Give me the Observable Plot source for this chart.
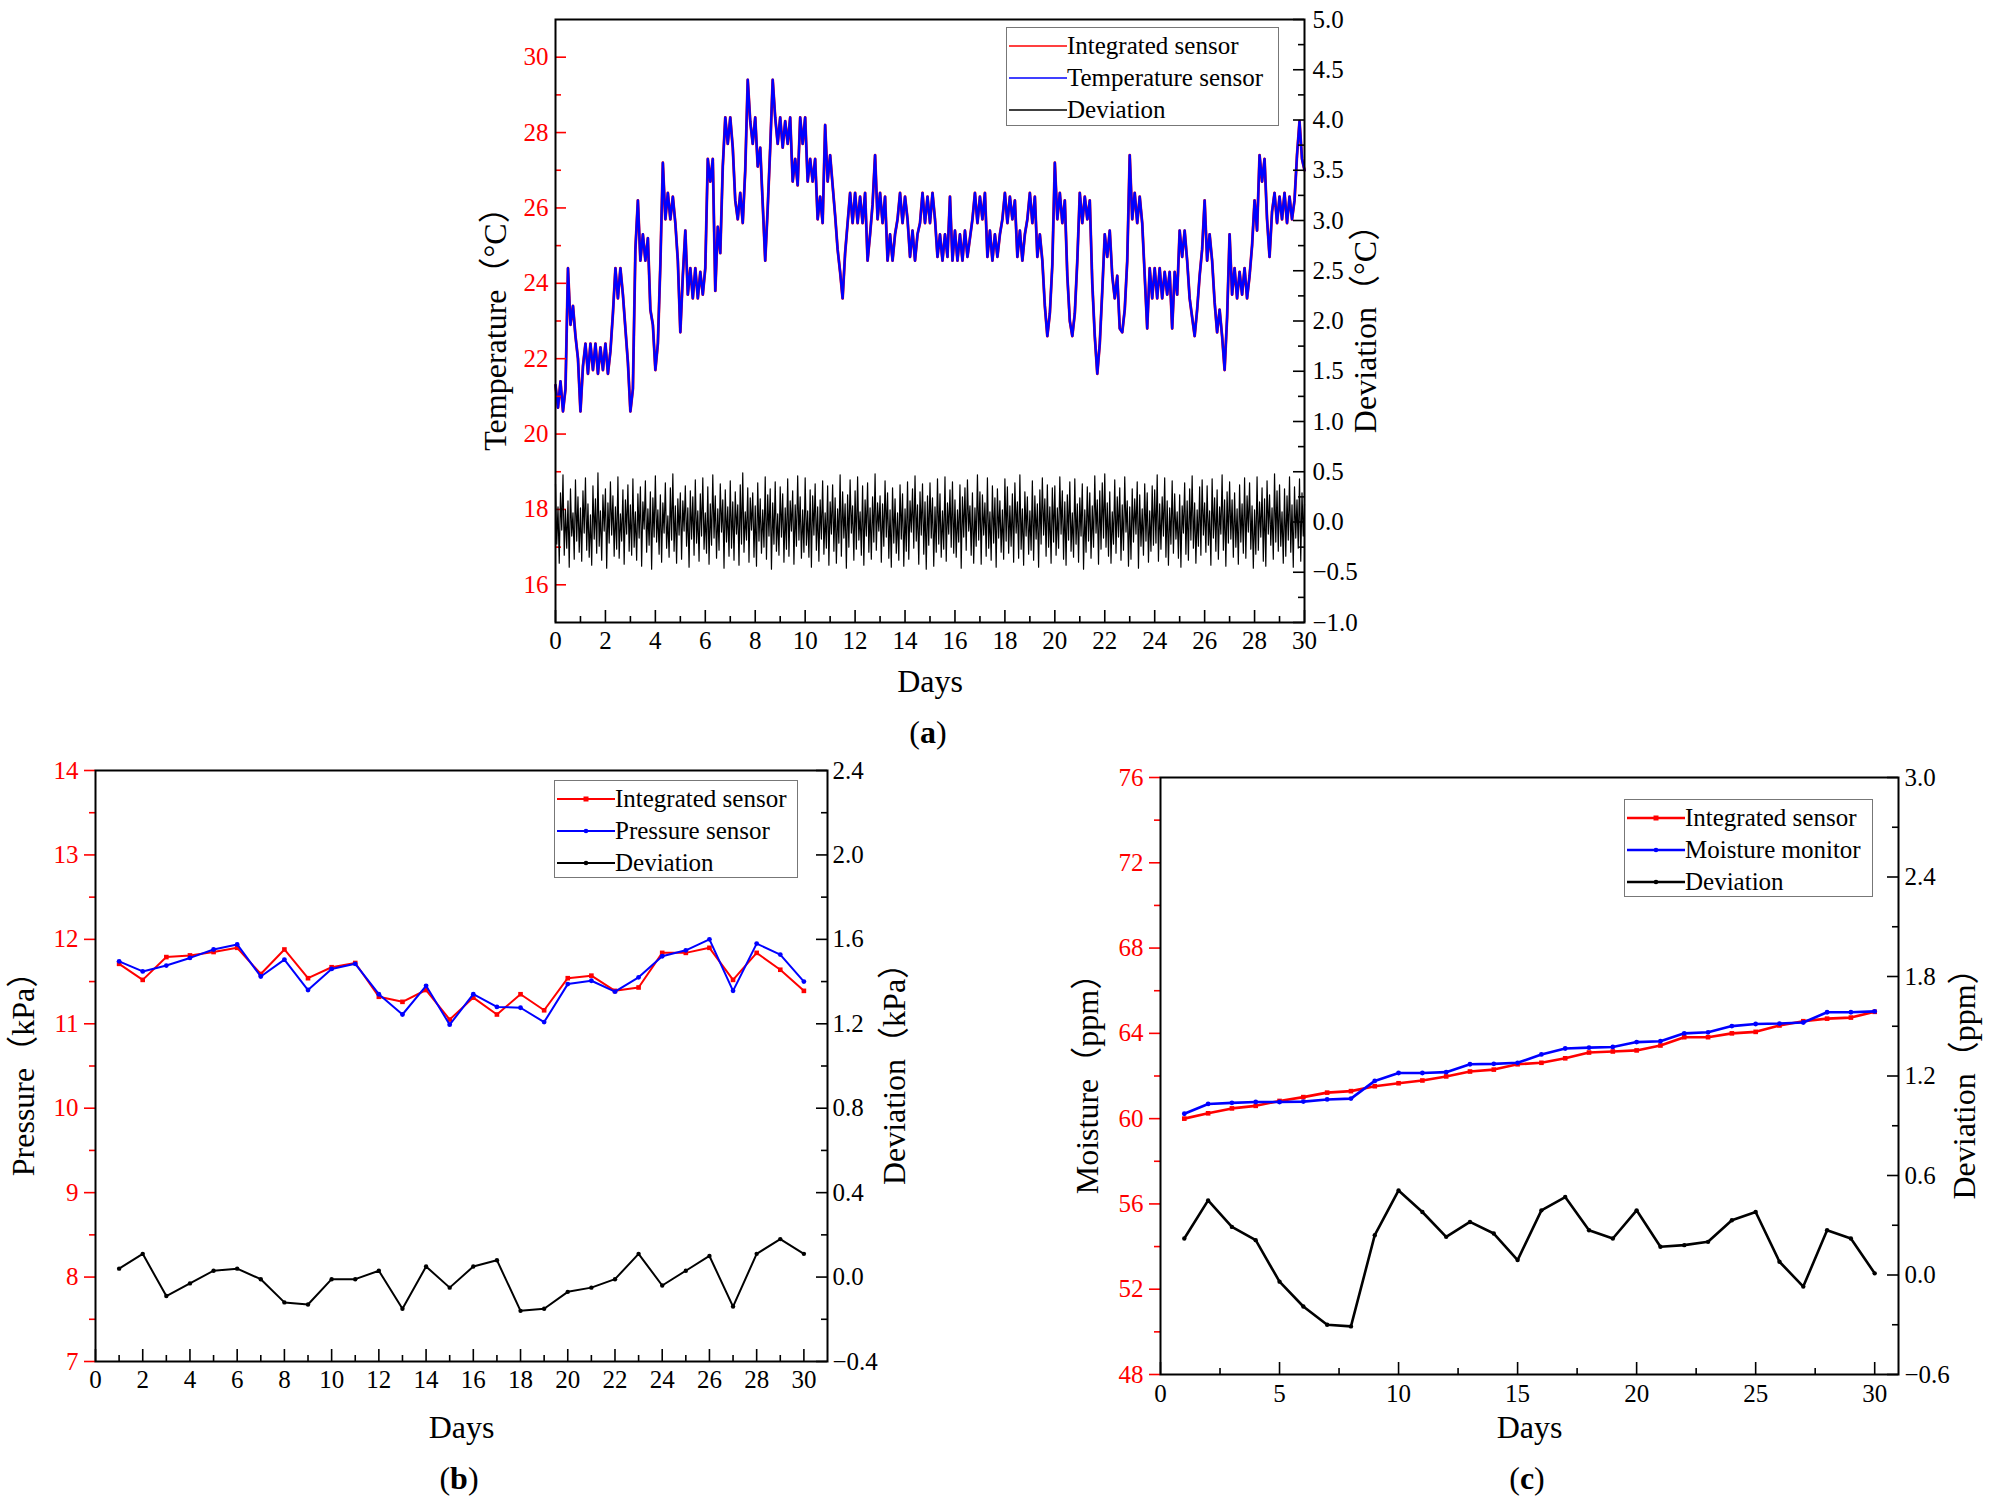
<!DOCTYPE html>
<html><head><meta charset="utf-8">
<script src="https://cdn.jsdelivr.net/npm/d3@7"></script>
<script src="https://cdn.jsdelivr.net/npm/@observablehq/plot@0.6"></script>
<style>
html,body{margin:0;padding:0;background:#fff;}
body{width:1989px;height:1507px;position:relative;overflow:hidden;font-family:'Liberation Serif','Times New Roman','Noto Sans CJK SC',serif;}
.layer{position:absolute;}
.layer svg{position:absolute;left:0;top:0;}
.legend{position:absolute;border:1.5px solid #777;background:#fff;box-sizing:border-box;}
.leg-row{position:absolute;left:2px;height:30px;display:flex;align-items:center;font-size:25px;color:#000;white-space:nowrap;}
.leg-row svg{display:block;}
.plabel{position:absolute;font-size:32px;transform:translate(-50%,-50%);color:#000;}
</style></head><body>
<script>
const FONT = "'Liberation Serif','Times New Roman','Noto Sans CJK SC',serif";

// ---------- (a) temperature sensor, sampled every 0.1 day ----------
const tempDayStep = 0.1;
const temperatureSensor = [
  21.3,20.7,21.4,20.6,21.2,24.4,22.9,23.4,22.6,22.0,
  20.6,21.8,22.4,21.6,22.4,21.7,22.4,21.6,22.3,21.7,
  22.4,21.6,22.2,23.2,24.4,23.6,24.4,23.7,22.8,21.9,
  20.6,21.2,24.9,26.2,24.6,25.3,24.6,25.2,23.3,22.9,
  21.7,22.4,24.5,27.2,25.7,26.4,25.7,26.3,25.6,24.6,
  22.7,24.2,25.4,23.7,24.4,23.6,24.4,23.6,24.3,23.7,
  24.4,27.3,26.7,27.3,23.8,25.5,24.8,27.1,28.4,27.7,
  28.4,27.6,26.2,25.7,26.4,25.6,27.0,29.4,28.3,27.7,
  28.4,27.1,27.6,26.1,24.6,26.0,27.6,29.4,28.4,27.7,
  28.4,27.6,28.3,27.7,28.4,26.7,27.3,26.6,28.4,27.7,
  28.4,26.7,27.3,26.7,27.3,25.7,26.3,25.6,28.2,26.7,
  27.4,26.6,25.8,24.9,24.3,23.6,24.8,25.6,26.4,25.6,
  26.4,25.6,26.3,25.6,26.4,24.6,25.3,26.1,27.4,25.7,
  26.4,25.6,26.3,24.6,25.3,24.6,25.3,25.7,26.4,25.6,
  26.3,25.7,24.7,25.4,24.6,25.3,25.6,26.4,25.6,26.3,
  25.6,26.4,25.7,24.7,25.3,24.6,25.3,24.7,26.3,24.6,
  25.4,24.6,25.3,24.6,25.4,24.7,25.2,25.7,26.4,25.6,
  26.3,25.7,26.4,24.7,25.4,24.6,25.3,24.7,25.3,25.7,
  26.4,25.6,26.3,25.7,26.2,24.7,25.4,24.6,25.3,25.7,
  26.4,25.6,26.3,24.7,25.3,24.6,23.4,22.6,23.2,24.5,
  27.2,25.7,26.4,25.6,26.2,24.2,23.0,22.6,23.2,24.6,
  26.4,25.6,26.3,25.7,26.2,24.0,22.6,21.6,22.4,23.8,
  25.3,24.7,25.4,24.2,23.6,24.2,22.8,22.7,23.3,24.6,
  27.4,25.7,26.4,25.6,26.3,25.6,24.2,22.8,24.4,23.6,
  24.4,23.6,24.4,23.6,24.3,23.7,24.3,22.8,24.3,23.7,
  25.4,24.7,25.4,24.6,23.6,23.1,22.6,23.3,24.2,24.9,
  26.2,24.6,25.3,24.6,23.5,22.7,23.3,22.6,21.7,23.1,
  25.3,23.7,24.4,23.6,24.3,23.7,24.4,23.6,24.2,25.0,
  26.2,25.4,27.4,26.7,27.3,25.7,24.7,25.9,26.4,25.6,
  26.3,25.7,26.4,25.6,26.3,25.7,26.2,27.4,28.3,27.3,
  27.0
];
const integratedTemp = temperatureSensor; // integrated sensor overlaps the temperature sensor

// ---------- (a) deviation, sampled every 0.05 day ----------
const devDayStep = 0.05;
const deviationA = [
  0.38,-0.22,0.15,-0.41,0.29,-0.08,0.47,-0.33,0.12,-0.26,0.21,-0.45,0.33,-0.14,0.09,-0.37,0.42,-0.19,0.25,-0.30,
  0.14,-0.39,0.31,-0.11,0.44,-0.28,0.18,-0.35,0.07,-0.43,0.36,-0.17,0.23,-0.31,0.49,-0.24,0.11,-0.38,0.27,-0.09,
  0.33,-0.46,0.19,-0.21,0.40,-0.13,0.26,-0.34,0.15,-0.27,0.45,-0.36,0.08,-0.19,0.32,-0.42,0.22,-0.12,0.37,-0.29,
  0.17,-0.33,0.43,-0.25,0.10,-0.38,0.28,-0.16,0.35,-0.44,0.20,-0.07,0.41,-0.30,0.13,-0.23,0.30,-0.47,0.24,-0.15,
  0.46,-0.20,0.12,-0.32,0.27,-0.40,0.19,-0.11,0.39,-0.26,0.06,-0.35,0.34,-0.18,0.48,-0.29,0.16,-0.41,0.23,-0.13,
  0.29,-0.37,0.21,-0.09,0.36,-0.24,0.14,-0.45,0.31,-0.17,0.25,-0.33,0.42,-0.21,0.11,-0.39,0.28,-0.14,0.44,-0.27,
  0.09,-0.31,0.35,-0.42,0.18,-0.23,0.47,-0.16,0.26,-0.36,0.13,-0.28,0.38,-0.10,0.22,-0.46,0.32,-0.20,0.15,-0.34,
  0.41,-0.26,0.20,-0.38,0.30,-0.12,0.17,-0.43,0.37,-0.22,0.49,-0.30,0.10,-0.18,0.34,-0.40,0.24,-0.08,0.29,-0.35,
  0.16,-0.44,0.39,-0.19,0.23,-0.31,0.12,-0.25,0.45,-0.37,0.27,-0.14,0.33,-0.47,0.19,-0.22,0.40,-0.29,0.08,-0.33,
  0.35,-0.15,0.28,-0.40,0.14,-0.27,0.43,-0.34,0.21,-0.09,0.31,-0.42,0.17,-0.24,0.46,-0.18,0.25,-0.36,0.12,-0.30,
  0.44,-0.23,0.11,-0.35,0.32,-0.45,0.26,-0.13,0.38,-0.28,0.15,-0.39,0.22,-0.17,0.41,-0.32,0.09,-0.26,0.36,-0.43,
  0.20,-0.12,0.37,-0.29,0.24,-0.41,0.13,-0.21,0.47,-0.34,0.30,-0.16,0.18,-0.46,0.27,-0.25,0.42,-0.11,0.16,-0.38,
  0.31,-0.27,0.45,-0.18,0.10,-0.33,0.36,-0.43,0.22,-0.14,0.39,-0.30,0.14,-0.37,0.25,-0.20,0.48,-0.28,0.19,-0.09,
  0.26,-0.40,0.18,-0.24,0.41,-0.15,0.29,-0.36,0.12,-0.45,0.34,-0.21,0.23,-0.31,0.09,-0.38,0.37,-0.17,0.28,-0.44,
  0.13,-0.29,0.40,-0.37,0.21,-0.10,0.33,-0.26,0.46,-0.19,0.17,-0.42,0.30,-0.13,0.38,-0.32,0.20,-0.47,0.26,-0.23,
  0.39,-0.16,0.24,-0.44,0.15,-0.30,0.43,-0.22,0.28,-0.35,0.11,-0.27,0.45,-0.39,0.19,-0.12,0.32,-0.25,0.40,-0.31,
  0.22,-0.35,0.12,-0.20,0.37,-0.46,0.25,-0.15,0.34,-0.28,0.42,-0.09,0.16,-0.33,0.29,-0.41,0.14,-0.24,0.47,-0.18,
  0.30,-0.42,0.27,-0.13,0.19,-0.34,0.44,-0.26,0.10,-0.38,0.36,-0.21,0.24,-0.45,0.33,-0.16,0.21,-0.30,0.12,-0.37,
  0.43,-0.19,0.35,-0.31,0.16,-0.24,0.28,-0.40,0.39,-0.11,0.20,-0.36,0.47,-0.27,0.13,-0.43,0.30,-0.14,0.25,-0.32,
  0.11,-0.28,0.41,-0.38,0.26,-0.17,0.18,-0.45,0.32,-0.22,0.44,-0.13,0.23,-0.34,0.37,-0.25,0.15,-0.41,0.34,-0.20,
  0.36,-0.33,0.14,-0.26,0.45,-0.12,0.31,-0.37,0.20,-0.43,0.27,-0.18,0.40,-0.29,0.09,-0.35,0.43,-0.22,0.18,-0.40,
  0.24,-0.14,0.38,-0.47,0.12,-0.30,0.35,-0.19,0.29,-0.36,0.16,-0.25,0.46,-0.11,0.22,-0.42,0.31,-0.27,0.39,-0.16,
  0.48,-0.25,0.19,-0.34,0.30,-0.41,0.10,-0.22,0.42,-0.31,0.25,-0.15,0.34,-0.38,0.17,-0.28,0.45,-0.10,0.21,-0.44,
  0.15,-0.37,0.33,-0.20,0.23,-0.12,0.40,-0.46,0.27,-0.24,0.13,-0.33,0.38,-0.19,0.29,-0.40,0.11,-0.29,0.36,-0.23,
  0.32,-0.21,0.47,-0.39,0.18,-0.27,0.25,-0.14,0.44,-0.35,0.21,-0.43,0.14,-0.22,0.41,-0.31,0.28,-0.17,0.10,-0.36,
  0.27,-0.45,0.16,-0.11,0.39,-0.32,0.21,-0.38,0.33,-0.18,0.46,-0.26,0.19,-0.41,0.12,-0.24,0.35,-0.33,0.42,-0.13,
  0.19,-0.30,0.36,-0.23,0.11,-0.43,0.43,-0.16,0.24,-0.29,0.32,-0.37,0.15,-0.12,0.47,-0.28,0.22,-0.44,0.30,-0.21,
  0.40,-0.17,0.22,-0.35,0.29,-0.25,0.13,-0.42,0.37,-0.20,0.18,-0.31,0.44,-0.36,0.26,-0.10,0.39,-0.27,0.16,-0.46,
  0.12,-0.32,0.45,-0.28,0.20,-0.15,0.34,-0.39,0.23,-0.44,0.41,-0.12,0.27,-0.23,0.14,-0.37,0.48,-0.20,0.31,-0.29,
  0.37,-0.24,0.10,-0.41,0.33,-0.34,0.26,-0.18,0.45,-0.30,0.17,-0.45,0.35,-0.16,0.22,-0.26,0.43,-0.39,0.29,-0.14,
  0.18
];

// ---------- (b) pressure, daily ----------
const days = [1,2,3,4,5,6,7,8,9,10,11,12,13,14,15,16,17,18,19,20,21,22,23,24,25,26,27,28,29,30];
const pressureIntegrated = [11.71,11.52,11.79,11.81,11.85,11.90,11.59,11.88,11.54,11.67,11.72,11.32,11.26,11.40,11.05,11.31,11.11,11.35,11.16,11.54,11.57,11.39,11.43,11.84,11.84,11.90,11.52,11.84,11.64,11.39];
const pressureSensor     = [11.74,11.62,11.69,11.78,11.88,11.94,11.56,11.76,11.40,11.65,11.71,11.35,11.11,11.45,10.99,11.35,11.20,11.19,11.02,11.47,11.51,11.38,11.55,11.80,11.87,12.00,11.39,11.95,11.82,11.50];
const pressureDeviation  = [0.04,0.11,-0.09,-0.03,0.03,0.04,-0.01,-0.12,-0.13,-0.01,-0.01,0.03,-0.15,0.05,-0.05,0.05,0.08,-0.16,-0.15,-0.07,-0.05,-0.01,0.11,-0.04,0.03,0.10,-0.14,0.11,0.18,0.11];

// ---------- (c) moisture, daily ----------
const moistureIntegrated = [60.00,60.25,60.48,60.60,60.83,61.01,61.22,61.29,61.52,61.66,61.79,61.98,62.21,62.30,62.55,62.62,62.83,63.10,63.15,63.20,63.43,63.82,63.82,64.00,64.07,64.37,64.57,64.69,64.74,65.01];
const moistureMonitor    = [60.23,60.69,60.74,60.78,60.78,60.80,60.90,60.94,61.77,62.14,62.14,62.18,62.55,62.57,62.62,63.01,63.29,63.33,63.36,63.59,63.63,64.00,64.05,64.34,64.44,64.46,64.51,64.99,64.99,65.03];
const moistureDeviation  = [0.22,0.45,0.29,0.21,-0.04,-0.19,-0.30,-0.31,0.24,0.51,0.38,0.23,0.32,0.25,0.09,0.39,0.47,0.27,0.22,0.39,0.17,0.18,0.20,0.33,0.38,0.08,-0.07,0.27,0.22,0.01];

// ---------- ticks ----------
const ticksAx = [0,2,4,6,8,10,12,14,16,18,20,22,24,26,28,30];
const minorAx = [1,3,5,7,9,11,13,15,17,19,21,23,25,27,29];
const ticksAyL = [16,18,20,22,24,26,28,30];
const minorAyL = [17,19,21,23,25,27,29];
const ticksAyR = [-1,-0.5,0,0.5,1,1.5,2,2.5,3,3.5,4,4.5,5];
const minorAyR = [-0.75,-0.25,0.25,0.75,1.25,1.75,2.25,2.75,3.25,3.75,4.25,4.75];

const ticksBx = [0,2,4,6,8,10,12,14,16,18,20,22,24,26,28,30];
const minorBx = [1,3,5,7,9,11,13,15,17,19,21,23,25,27,29];
const ticksByL = [7,8,9,10,11,12,13,14];
const minorByL = [7.5,8.5,9.5,10.5,11.5,12.5,13.5];
const ticksByR = [-0.4,0,0.4,0.8,1.2,1.6,2.0,2.4];
const minorByR = [-0.2,0.2,0.6,1.0,1.4,1.8,2.2];

const ticksCx = [0,5,10,15,20,25,30];
const minorCx = [2.5,7.5,12.5,17.5,22.5,27.5];
const ticksCyL = [48,52,56,60,64,68,72,76];
const minorCyL = [50,54,58,62,66,70,74];
const ticksCyR = [-0.6,0,0.6,1.2,1.8,2.4,3.0];
const minorCyR = [-0.3,0.3,0.9,1.5,2.1,2.7];

const fmt1 = d3.format(".1f");
const ident = d => d;
const TITLE_SIZE = 32;

function panel(o) {
  const ML = 130, MR = 130, MT = 20, MB = 100;
  const layer = document.createElement("div");
  layer.className = "layer";
  layer.style.left = (o.fx - ML) + "px";
  layer.style.top = (o.fy - MT) + "px";
  layer.style.width = (ML + o.fw + MR) + "px";
  layer.style.height = (MT + o.fh + MB) + "px";
  const common = {
    width: ML + o.fw + MR, height: MT + o.fh + MB,
    marginLeft: ML, marginRight: MR, marginTop: MT, marginBottom: MB,
    style: {background: "transparent", fontFamily: FONT, overflow: "visible", color: "#000"}
  };
  const tickW = 1.6;
  const leftTicks = o.leftOut ? [
    Plot.axisY(o.yLMinor, {anchor: "left", tickSize: 6, stroke: "red", strokeWidth: tickW, tickFormat: () => "", label: null}),
    Plot.axisY(o.yLMajor, {anchor: "left", tickSize: 11, tickPadding: o.yLPad, stroke: "red", strokeWidth: tickW, fill: "red", fontSize: 25, tickFormat: d => String(d), label: null})
  ] : [
    Plot.tickY(o.yLMinor, {y: ident, insetRight: o.fw - 6, stroke: "red", strokeWidth: tickW}),
    Plot.tickY(o.yLMajor, {y: ident, insetRight: o.fw - 11, stroke: "red", strokeWidth: tickW}),
    Plot.axisY(o.yLMajor, {anchor: "left", tickSize: 0, tickPadding: o.yLPad, fill: "red", fontSize: 25, tickFormat: d => String(d), label: null})
  ];
  const p1 = Plot.plot({
    ...common,
    x: {domain: o.xDomain},
    y: {domain: o.yLDomain},
    marks: [
      ...o.marksL,
      Plot.tickX(o.xMinor, {x: ident, insetTop: o.fh - 6, stroke: "#000", strokeWidth: tickW}),
      Plot.tickX(o.xMajor, {x: ident, insetTop: o.fh - 12, stroke: "#000", strokeWidth: tickW}),
      ...leftTicks,
      Plot.axisX(o.xMajor, {anchor: "bottom", tickSize: 0, tickPadding: o.xPad, fill: "#000", fontSize: 25, tickFormat: d => String(d), label: null}),
      Plot.frame({stroke: "#000", strokeWidth: 2}),
      Plot.text([o.xTitle], {text: ident, frameAnchor: "bottom", dy: o.xTitleDy, fontSize: TITLE_SIZE, lineAnchor: "middle", fill: "#000"}),
      Plot.text([o.yLTitle], {text: ident, frameAnchor: "left", dx: o.yLTitleDx, rotate: -90, fontSize: TITLE_SIZE, lineAnchor: "middle", textAnchor: "middle", fill: "#000"})
    ]
  });
  const p2 = Plot.plot({
    ...common,
    x: {domain: o.xDomain, axis: null},
    y: {domain: o.yRDomain},
    marks: [
      ...o.marksR,
      Plot.tickY(o.yRMinor, {y: ident, insetLeft: o.fw - 6, stroke: "#000", strokeWidth: tickW}),
      Plot.tickY(o.yRMajor, {y: ident, insetLeft: o.fw - 11, stroke: "#000", strokeWidth: tickW}),
      Plot.axisY(o.yRMajor, {anchor: "right", tickSize: 0, tickPadding: o.yRPad, fill: "#000", fontSize: 25, tickFormat: fmt1, label: null}),
      Plot.text([o.yRTitle], {text: ident, frameAnchor: "right", dx: o.yRTitleDx, rotate: -90, fontSize: TITLE_SIZE, lineAnchor: "middle", textAnchor: "middle", fill: "#000"})
    ]
  });
  layer.appendChild(p1);
  layer.appendChild(p2);
  document.body.appendChild(layer);
}

function legend(left, top, w, h, items, markers) {
  const box = document.createElement("div");
  box.className = "legend";
  Object.assign(box.style, {left: left + "px", top: top + "px", width: w + "px", height: h + "px"});
  const rowY = [18, 50, 82];
  items.forEach((it, k) => {
    const row = document.createElement("div");
    row.className = "leg-row";
    row.style.top = (rowY[k] - 15) + "px";
    let mk = "";
    if (markers) {
      mk = it.square
        ? `<rect x="26.5" y="12.5" width="5" height="5" fill="${it.color}"/>`
        : `<circle cx="29" cy="15" r="2.3" fill="${it.color}"/>`;
    }
    row.innerHTML = `<svg width="58" height="30"><line x1="0" y1="15" x2="58" y2="15" stroke="${it.color}" stroke-width="${it.w}"/>${mk}</svg><span>${it.label}</span>`;
    box.appendChild(row);
  });
  document.body.appendChild(box);
}

function plabel(x, y, letter) {
  const d = document.createElement("div");
  d.className = "plabel";
  d.style.left = x + "px"; d.style.top = y + "px";
  d.innerHTML = `(<b>${letter}</b>)`;
  document.body.appendChild(d);
}

const xA = (d, i) => i * tempDayStep;
const xDev = (d, i) => i * devDayStep;
const xD = (d, i) => days[i];

// ---------- panel (a) ----------
panel({
  fx: 555, fy: 19, fw: 749, fh: 603,
  xDomain: [0, 30], yLDomain: [15, 31], yRDomain: [-1, 5],
  xMajor: ticksAx, xMinor: minorAx, yLMajor: ticksAyL, yLMinor: minorAyL, yRMajor: ticksAyR, yRMinor: minorAyR,
  leftOut: false, xPad: 9, yLPad: 7, yRPad: 8,
  xTitle: "Days", yLTitle: "Temperature（°C）", yRTitle: "Deviation（°C）",
  xTitleDy: 59, yLTitleDx: -60, yRTitleDx: 61,
  marksL: [
    Plot.line(integratedTemp, {x: xA, y: ident, stroke: "red", strokeWidth: 2.8}),
    Plot.line(temperatureSensor, {x: xA, y: ident, stroke: "blue", strokeWidth: 2.4})
  ],
  marksR: [
    Plot.line(deviationA, {x: xDev, y: ident, stroke: "#000", strokeWidth: 1.2})
  ]
});
legend(1006, 27, 273, 99, [
  {label: "Integrated sensor", color: "red", w: 1.5},
  {label: "Temperature sensor", color: "blue", w: 1.5},
  {label: "Deviation", color: "#000", w: 1.5}
], false);
plabel(928, 732, "a");

// ---------- panel (b) ----------
panel({
  fx: 95, fy: 770, fw: 732, fh: 591,
  xDomain: [0, 31], yLDomain: [7, 14], yRDomain: [-0.4, 2.4],
  xMajor: ticksBx, xMinor: minorBx, yLMajor: ticksByL, yLMinor: minorByL, yRMajor: ticksByR, yRMinor: minorByR,
  leftOut: true, xPad: 9, yLPad: 6, yRPad: 5,
  xTitle: "Days", yLTitle: "Pressure（kPa）", yRTitle: "Deviation（kPa）",
  xTitleDy: 66, yLTitleDx: -72, yRTitleDx: 67,
  marksL: [
    Plot.line(pressureIntegrated, {x: xD, y: ident, stroke: "red", strokeWidth: 2}),
    Plot.dot(pressureIntegrated, {x: xD, y: ident, fill: "red", symbol: "square", r: 2.6}),
    Plot.line(pressureSensor, {x: xD, y: ident, stroke: "blue", strokeWidth: 2}),
    Plot.dot(pressureSensor, {x: xD, y: ident, fill: "blue", r: 2.4})
  ],
  marksR: [
    Plot.line(pressureDeviation, {x: xD, y: ident, stroke: "#000", strokeWidth: 2}),
    Plot.dot(pressureDeviation, {x: xD, y: ident, fill: "#000", r: 2.2})
  ]
});
legend(554, 780, 244, 98, [
  {label: "Integrated sensor", color: "red", w: 2, square: true},
  {label: "Pressure sensor", color: "blue", w: 2},
  {label: "Deviation", color: "#000", w: 2}
], true);
plabel(459, 1478, "b");

// ---------- panel (c) ----------
panel({
  fx: 1160, fy: 777, fw: 738, fh: 597,
  xDomain: [0, 31], yLDomain: [48, 76], yRDomain: [-0.6, 3.0],
  xMajor: ticksCx, xMinor: minorCx, yLMajor: ticksCyL, yLMinor: minorCyL, yRMajor: ticksCyR, yRMinor: minorCyR,
  leftOut: true, xPad: 10, yLPad: 6, yRPad: 6,
  xTitle: "Days", yLTitle: "Moisture（ppm）", yRTitle: "Deviation（ppm）",
  xTitleDy: 53, yLTitleDx: -73, yRTitleDx: 66,
  marksL: [
    Plot.line(moistureIntegrated, {x: xD, y: ident, stroke: "red", strokeWidth: 2.6}),
    Plot.dot(moistureIntegrated, {x: xD, y: ident, fill: "red", symbol: "square", r: 2.6}),
    Plot.line(moistureMonitor, {x: xD, y: ident, stroke: "blue", strokeWidth: 2.6}),
    Plot.dot(moistureMonitor, {x: xD, y: ident, fill: "blue", r: 2.4})
  ],
  marksR: [
    Plot.line(moistureDeviation, {x: xD, y: ident, stroke: "#000", strokeWidth: 2.6}),
    Plot.dot(moistureDeviation, {x: xD, y: ident, fill: "#000", r: 2.2})
  ]
});
legend(1624, 799, 249, 98, [
  {label: "Integrated sensor", color: "red", w: 2.6, square: true},
  {label: "Moisture monitor", color: "blue", w: 2.6},
  {label: "Deviation", color: "#000", w: 2.6}
], true);
plabel(1527, 1478, "c");
</script>
</body></html>
